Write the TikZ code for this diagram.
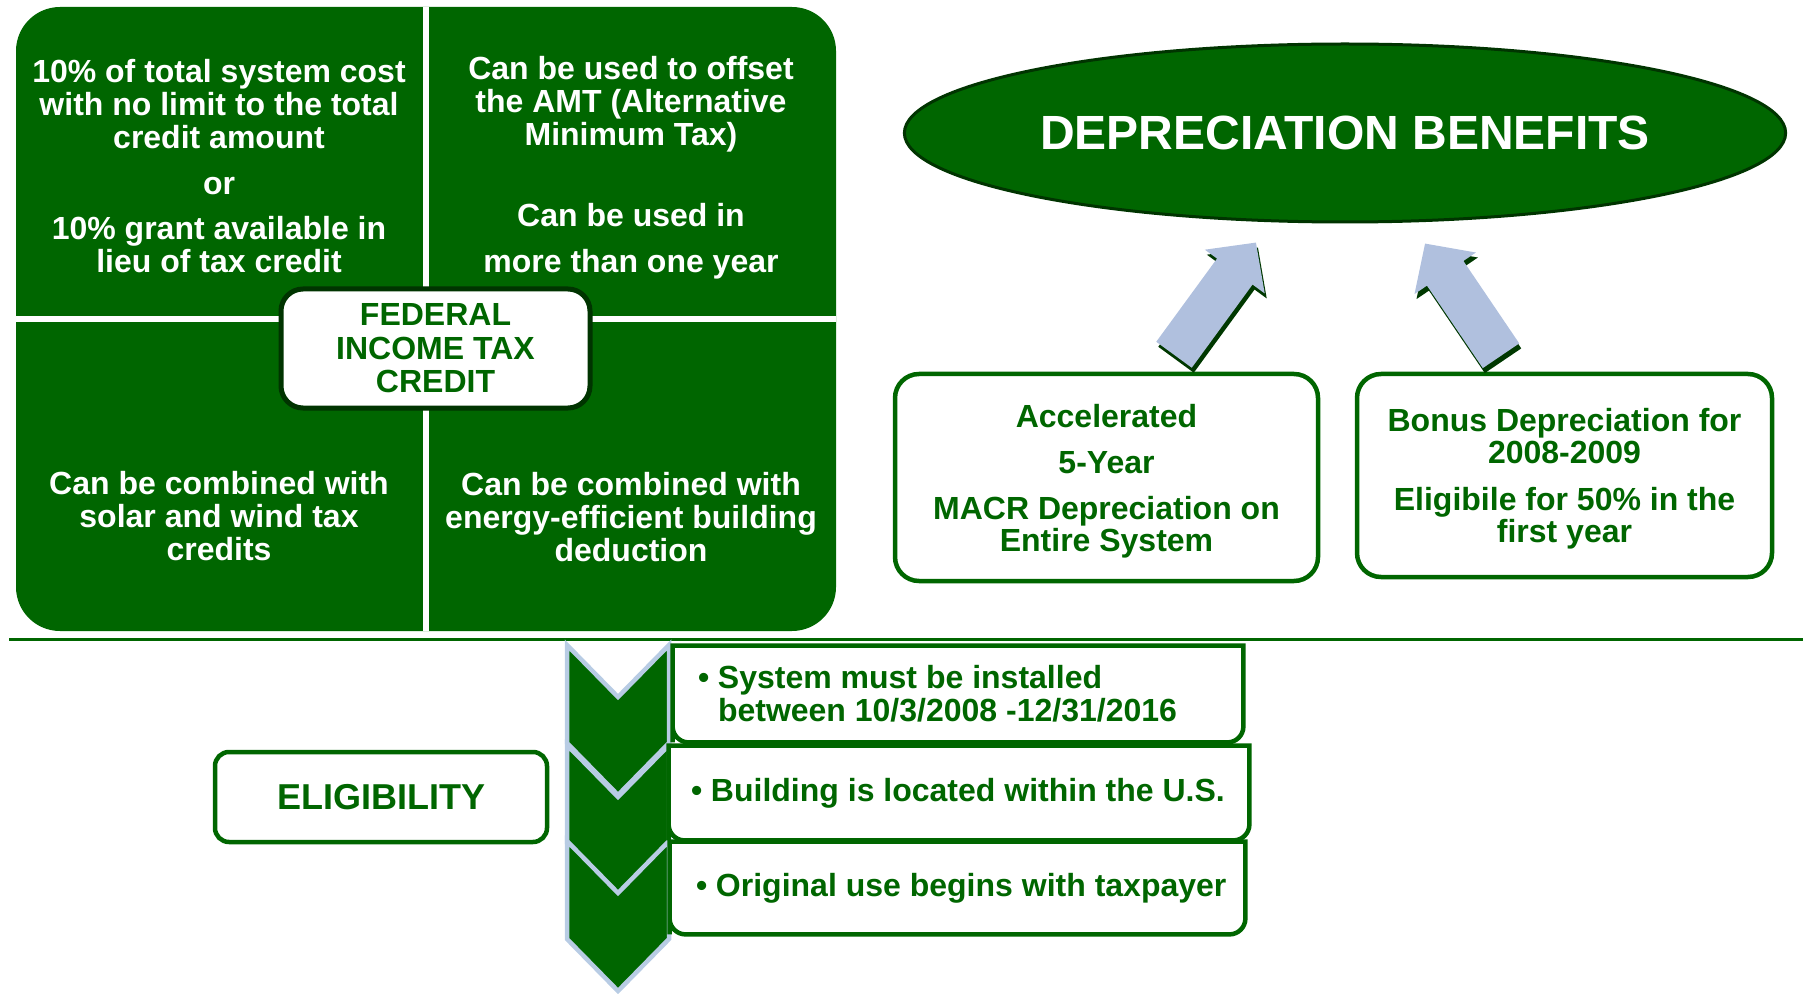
\documentclass[tikz,border=0pt]{standalone}
\usepackage{fontspec}
\setmainfont{Liberation Sans}
\usetikzlibrary{shapes.geometric,arrows.meta}
\definecolor{leafgreen}{RGB}{0,102,0}
\definecolor{deepgreen}{RGB}{0,52,0}
\definecolor{paleblue}{RGB}{176,192,222}
\definecolor{chevronblue}{RGB}{184,204,228}
\begin{document}
\begin{tikzpicture}[x=0.5pt,y=-0.5pt]
	\tikzstyle{panel}=[fill=leafgreen,rounded corners=22pt,minimum width=410pt,minimum height=312pt,inner sep=0pt]
	\tikzstyle{divider}=[white,line width=3pt]
	\tikzstyle{quadtext}=[text=white,align=center,font=\fontsize{16}{16.5}\selectfont\bfseries]
	\tikzstyle{hubbox}=[draw=deepgreen,line width=2.5pt,fill=white,rounded corners=11pt,
		minimum width=154.5pt,minimum height=59.5pt,inner sep=0pt,text=leafgreen,align=center,
		font=\fontsize{16}{16.75}\selectfont\bfseries]
	\tikzstyle{benefitoval}=[ellipse,draw=deepgreen,line width=1.5pt,fill=leafgreen,
		minimum width=437pt,minimum height=89pt,text=white,font=\fontsize{24}{28}\selectfont\bfseries]
	\tikzstyle{depbox}=[draw=leafgreen,line width=2.25pt,fill=white,rounded corners=12pt,
		text=leafgreen,align=center,inner sep=0pt,text depth=0pt,font=\fontsize{16}{16}\selectfont\bfseries]
	\tikzstyle{fatarrow}=[paleblue,line width=22pt,-{Triangle[length=18pt,width=36pt]}]
	\tikzstyle{arrowshade}=[leafgreen!55!black,line width=22pt,-{Triangle[length=18pt,width=36pt]},
		transform canvas={shift={(1pt,-2.5pt)}}]
	\tikzstyle{chevron}=[fill=leafgreen,draw=chevronblue,line width=2.25pt]
	\tikzstyle{itembox}=[inner sep=0pt]
	\tikzstyle{itemframe}=[draw=leafgreen,line width=2.25pt,fill=white]
	\tikzstyle{itemtext}=[anchor=west,inner sep=0pt,align=left,text=leafgreen,
		font=\fontsize{16}{16.5}\selectfont\bfseries]
	\tikzstyle{eligbox}=[draw=leafgreen,line width=2.25pt,fill=white,rounded corners=7pt,
		minimum width=166pt,minimum height=45pt,text=leafgreen,font=\fontsize{18}{20}\selectfont\bfseries]
	\useasboundingbox (0,0) rectangle (1803,994);
	\node[panel] (credit) at (426,319) {};
	\draw[divider] (credit.north) -- (credit.south);
	\draw[divider] (credit.west) -- (credit.east);
	\node[quadtext] (costnote) at (219,166) {10\% of total system cost\\with no limit to the total\\credit amount\\[6.5pt]or\\[6pt]10\% grant available in\\lieu of tax credit};
	\node[quadtext] (amtnote) at (631,168) {Can be used to offset\\the AMT (Alternative\\Minimum Tax)\\[24pt]Can be used in\\[6.5pt]more than one year};
	\node[quadtext] (solarnote) at (219,516) {Can be combined with\\solar and wind tax\\credits};
	\node[quadtext] (energynote) at (631,517) {Can be combined with\\energy-efficient building\\deduction};
	\node[hubbox] (hub) at (435.5,348.5) {FEDERAL\\INCOME TAX\\CREDIT};
	\node[benefitoval] (benefits) at (1345,133) {DEPRECIATION BENEFITS};
	\node[depbox,minimum width=211.5pt,minimum height=103.5pt] (macrs) at (1106.5,477.5) {Accelerated\\[7pt]5-Year\\[7pt]MACR Depreciation on\\Entire System};
	\node[depbox,minimum width=207.5pt,minimum height=101.5pt] (bonus) at (1564.5,475.5) {Bonus Depreciation for\\2008-2009\\[7.5pt]Eligibile for 50\% in the\\first year};
	\draw[arrowshade] ([shift={(67.5,-17)}]macrs.north) -- ([shift={(-89,19)}]benefits.south);
	\draw[arrowshade] ([shift={(-63.5,-16)}]bonus.north) -- ([shift={(80,20)}]benefits.south);
	\draw[fatarrow] ([shift={(67.5,-17)}]macrs.north) -- ([shift={(-89,19)}]benefits.south);
	\draw[fatarrow] ([shift={(-63.5,-16)}]bonus.north) -- ([shift={(80,20)}]benefits.south);
	\draw[leafgreen,line width=1.5pt] (9,639) -- (1803,639);
	\node[eligbox] (elig) at (381,797) {ELIGIBILITY};
	\foreach \ytop in {645,745,841}
		\draw[chevron] (567,\ytop) -- (618,\ytop+52) -- (669,\ytop) -- (669,\ytop+98) -- (618,\ytop+150) -- (567,\ytop+98) -- cycle;
	\node[itembox,minimum width=285pt,minimum height=48pt] (dates) at (958,694) {};
	\node[itembox,minimum width=290pt,minimum height=47pt] (site) at (959,793) {};
	\node[itembox,minimum width=287.5pt,minimum height=46pt] (firstuse) at (957.5,888) {};
	\foreach \item in {dates,site,firstuse}
		\draw[itemframe] (\item.south west) -- (\item.north west) -- (\item.north east) [rounded corners=8pt] -- (\item.south east) -- (\item.south west) [sharp corners] -- cycle;
	\node[itemtext] (datestext) at ([xshift=12.5pt]dates.west) {\makebox[10pt][l]{\textbullet}System must be installed\\\hspace*{10pt}between 10/3/2008 -12/31/2016};
	\node[itemtext] (sitetext) at ([xshift=11pt]site.west) {\makebox[10pt][l]{\textbullet}Building is located within the U.S.};
	\node[itemtext] (firstusetext) at ([xshift=13pt]firstuse.west) {\makebox[10pt][l]{\textbullet}Original use begins with taxpayer};
\end{tikzpicture}
\end{document}
